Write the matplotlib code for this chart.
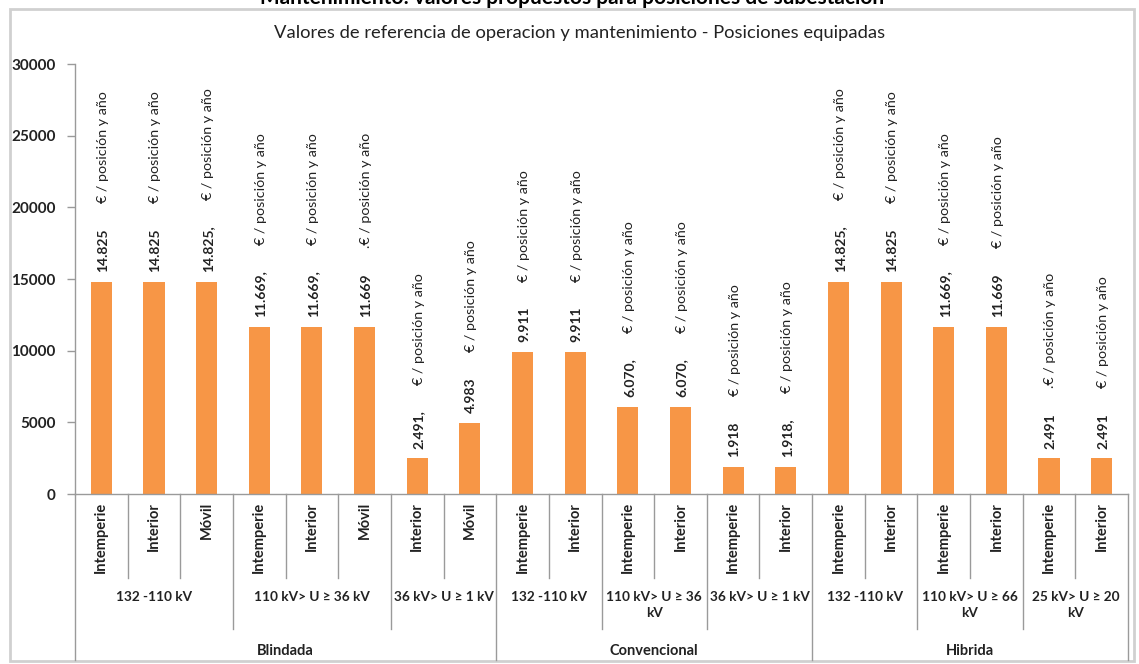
import matplotlib
matplotlib.use('Agg')
import matplotlib.pyplot as plt
from matplotlib import transforms
from matplotlib.patches import Rectangle
from matplotlib.lines import Line2D

plt.rcParams['font.family'] = ['Lato', 'DejaVu Sans']

# ---------------- data ----------------
level1 = ['Intemperie', 'Interior', 'Móvil', 'Intemperie', 'Interior', 'Móvil', 'Interior', 'Móvil',
          'Intemperie', 'Interior', 'Intemperie', 'Interior', 'Intemperie', 'Interior',
          'Intemperie', 'Interior', 'Intemperie', 'Interior', 'Intemperie', 'Interior']
sub_labels = ['132 -110 kV', '110 kV> U ≥ 36 kV', '36 kV> U ≥ 1 kV',
              '132 -110 kV', '110 kV> U ≥ 36\nkV', '36 kV> U ≥ 1 kV',
              '132 -110 kV', '110 kV> U ≥ 66\nkV', '25 kV> U ≥ 20\nkV']
sub_sizes = [3, 3, 2, 2, 2, 2, 2, 2, 2]
group_labels = ['Blindada', 'Convencional', 'Hibrida']
group_sizes = [8, 6, 6]
values = [14825, 14825, 14825, 11669, 11669, 11669, 2491, 4983,
          9911, 9911, 6070, 6070, 1918, 1918,
          14825, 14825, 11669, 11669, 2491, 2491]
value_text = ['14.825', '14.825', '14.825,', '11.669,', '11.669,', '11.669', '2.491,', '4.983',
              '9.911', '9.911', '6.070,', '6.070,', '1.918', '1.918,',
              '14.825,', '14.825', '11.669,', '11.669', '2.491', '2.491']
unit_text = ['€ / posición y año'] * 20
unit_text[5] = '.€ / posición y año'
unit_text[18] = '.€ / posición y año'
yticks = [0, 5000, 10000, 15000, 20000, 25000, 30000]

title = 'Valores de referencia de operacion y mantenimiento - Posiciones equipadas'
top_title = 'Mantenimiento: valores propuestos para posiciones de subestación'

# ---------------- figure ----------------
W, H = 1139, 664
fig = plt.figure(figsize=(W / 100, H / 100), dpi=100)
fig.patch.set_facecolor('white')


def fy(py):
    return 1 - py / H


def fx(px):
    return px / W


ax_left, ax_right, ax_top, ax_bot = 75, 1128, 64, 494
ax = fig.add_axes([fx(ax_left), fy(ax_bot), fx(ax_right) - fx(ax_left), (ax_bot - ax_top) / H])

BAR = '#F79646'
TXT = '#222222'
LINE = '#9A9A9A'

x = list(range(len(values)))
ax.bar(x, values, width=0.4, color=BAR, zorder=2)
ax.set_xlim(-0.5, len(values) - 0.5)
ax.set_ylim(0, 30000)
ax.set_yticks(yticks)
ax.set_yticklabels([str(v) for v in yticks], fontsize=11, fontweight='bold', color=TXT)
ax.tick_params(axis='y', length=6, width=1, color=LINE, pad=8)
ax.tick_params(axis='x', length=0, labelbottom=False)
for s in ['top', 'right']:
    ax.spines[s].set_visible(False)
for s in ['left', 'bottom']:
    ax.spines[s].set_color(LINE)
    ax.spines[s].set_linewidth(1)

# data labels
for i, v in enumerate(values):
    num = ax.annotate(value_text[i], xy=(i, v), xytext=(1, 7), textcoords='offset points',
                      rotation=90, ha='center', va='bottom', fontsize=10, fontweight='bold',
                      color=TXT)
    ax.annotate(unit_text[i], xy=(0.5, 1), xycoords=num, xytext=(0, 18),
                textcoords='offset points', rotation=90, ha='center', va='bottom',
                fontsize=10.3, color=TXT)

# hierarchical category axis
bt = transforms.blended_transform_factory(ax.transData, fig.transFigure)

for i, lab in enumerate(level1):
    fig.text(i, fy(502), lab, transform=bt, rotation=90, ha='center', va='top',
             fontsize=10.5, fontweight='bold', color=TXT)

sub_bounds = [0]
for s in sub_sizes:
    sub_bounds.append(sub_bounds[-1] + s)
grp_bounds = [0]
for g in group_sizes:
    grp_bounds.append(grp_bounds[-1] + g)

for k in range(len(values) + 1):
    if k in grp_bounds:
        bottom = 660
    elif k in sub_bounds:
        bottom = 629
    else:
        bottom = 578
    fig.add_artist(Line2D([k - 0.5, k - 0.5], [fy(ax_bot), fy(bottom)], transform=bt,
                          color=LINE, lw=1))

for j, lab in enumerate(sub_labels):
    c = (sub_bounds[j] + sub_bounds[j + 1] - 1) / 2
    fig.text(c, fy(591), lab, transform=bt, ha='center', va='top',
             fontsize=9.8, fontweight='bold', color=TXT, linespacing=1.4, multialignment='center')

for j, lab in enumerate(group_labels):
    c = (grp_bounds[j] + grp_bounds[j + 1] - 1) / 2
    fig.text(c, fy(651), lab, transform=bt, ha='center', va='center',
             fontsize=10.5, fontweight='bold', color=TXT)

# titles and frame
fig.text(fx(580), fy(33), title, ha='center', va='center', fontsize=13.2, color=TXT)
fig.text(fx(572), fy(4), top_title, ha='center', va='baseline', fontsize=15,
         fontweight='bold', color='black')
fig.add_artist(Rectangle((fx(10), fy(661)), fx(1134) - fx(10), fy(9) - fy(661),
                         transform=fig.transFigure, fill=False, edgecolor='#D0D0D0', lw=2))

fig.savefig('out.png', dpi=100, facecolor='white')
